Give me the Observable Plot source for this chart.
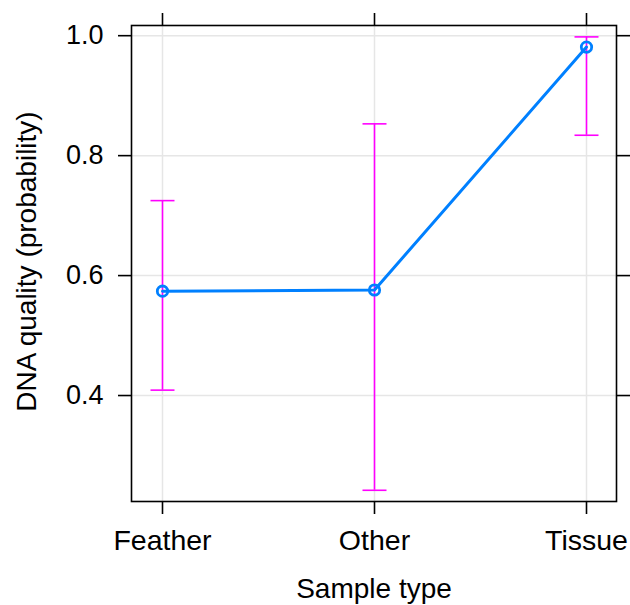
<!DOCTYPE html>
<html>
<head>
<meta charset="utf-8">
<script src="https://cdn.jsdelivr.net/npm/d3@7"></script>
<script src="https://cdn.jsdelivr.net/npm/@observablehq/plot@0.6"></script>
<style>
  html, body { margin: 0; padding: 0; background: #fff; }
  #chart svg { display: block; }
</style>
</head>
<body>
<div id="chart"></div>
<script>
// Effect of sample type on DNA quality: fitted probability with confidence limits
const sampleTypes = ["Feather", "Other", "Tissue"];
const fitted = [0.574, 0.576, 0.981];
const lower = [0.409, 0.242, 0.834];
const upper = [0.725, 0.853, 0.998];
const yTicks = [0.4, 0.6, 0.8, 1.0];

const rows = sampleTypes.map((type, i) => ({
  type, fit: fitted[i], lo: lower[i], hi: upper[i]
}));

const font = "'Liberation Sans', Arial, sans-serif";
const tickStroke = 1.6;

// horizontal end cap for the error bars (24px wide)
const capSymbol = {
  draw(context) {
    context.moveTo(-12, 0);
    context.lineTo(12, 0);
  }
};

const chart = Plot.plot({
  width: 630,
  height: 605,
  marginLeft: 131,
  marginRight: 14,
  marginTop: 25,
  marginBottom: 104,
  style: { fontFamily: font, background: "#fff", color: "#000" },
  x: { type: "point", domain: sampleTypes, padding: 0.1414 },
  y: { domain: [0.2233, 1.017] },
  marks: [
    Plot.gridX(sampleTypes, { stroke: "#e6e6e6", strokeOpacity: 1, strokeWidth: 1.5 }),
    Plot.gridY(yTicks, { stroke: "#e6e6e6", strokeOpacity: 1, strokeWidth: 1.5 }),
    // confidence limits
    Plot.ruleX(rows, { x: "type", y1: "lo", y2: "hi", stroke: "#ff00ff", strokeWidth: 1.6 }),
    Plot.dot(rows, { x: "type", y: "lo", symbol: capSymbol, stroke: "#ff00ff", strokeWidth: 1.6, fill: "none" }),
    Plot.dot(rows, { x: "type", y: "hi", symbol: capSymbol, stroke: "#ff00ff", strokeWidth: 1.6, fill: "none" }),
    // fitted values
    Plot.line(rows, { x: "type", y: "fit", stroke: "#0080ff", strokeWidth: 3 }),
    Plot.dot(rows, { x: "type", y: "fit", r: 5.2, stroke: "#0080ff", strokeWidth: 2.8, fill: "none" }),
    Plot.frame({ stroke: "#000", strokeWidth: 1.6 }),
    Plot.axisX({ anchor: "bottom", tickSize: 13, tickPadding: 15, fontSize: 28.5, strokeWidth: tickStroke, label: null }),
    Plot.axisX({ anchor: "top", tickSize: 13, tickFormat: () => "", strokeWidth: tickStroke, label: null }),
    Plot.axisY(yTicks, { anchor: "left", tickSize: 13, tickPadding: 15, fontSize: 27, tickFormat: d3.format(".1f"), strokeWidth: tickStroke, label: null }),
    Plot.axisY(yTicks, { anchor: "right", tickSize: 13, tickFormat: () => "", strokeWidth: tickStroke, label: null }),
    // axis titles
    Plot.text(["Sample type"], { frameAnchor: "bottom", dy: 96, fontSize: 28, fill: "#000" }),
    Plot.text(["DNA quality (probability)"], { frameAnchor: "left", textAnchor: "middle", rotate: -90, dx: -104, dy: -2, fontSize: 28, fill: "#000" })
  ]
});

document.getElementById("chart").append(chart);
</script>
</body>
</html>
